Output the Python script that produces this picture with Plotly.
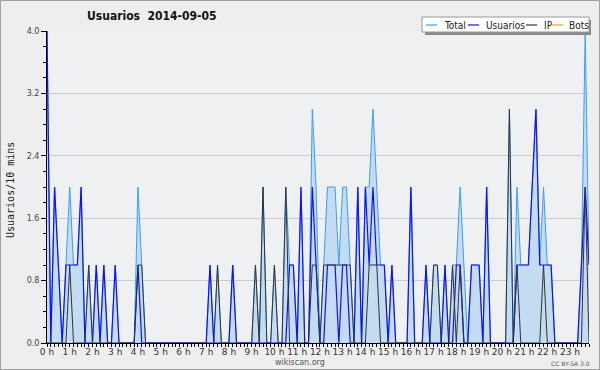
import plotly.graph_objects as go

# 10-minute slots, 0:00 .. 23:50 (x in hours)
slots = [i / 6 for i in range(144)]

usuarios = [
    4, 0, 2, 1, 0, 1, 1, 1, 1, 2, 0, 0,
    0, 1, 0, 1, 0, 0, 1, 0, 0, 0, 0, 0,
    1, 0, 0, 0, 0, 0, 0, 0, 0, 0, 0, 0,
    0, 0, 0, 0, 0, 0, 0, 1, 0, 0, 0, 0,
    0, 1, 0, 0, 0, 0, 0, 0, 0, 0, 0, 0,
    0, 0, 0, 0, 1, 1, 0, 2, 0, 0, 2, 1,
    0, 0, 1, 1, 1, 0, 1, 1, 0, 0, 2, 0,
    2, 1, 2, 1, 1, 1, 0, 1, 0, 0, 0, 0,
    2, 0, 0, 0, 1, 0, 0, 0, 0, 1, 0, 0,
    1, 1, 0, 0, 1, 1, 1, 0, 2, 0, 0, 0,
    0, 0, 0, 0, 1, 1, 1, 1, 2, 3, 1, 1,
    1, 1, 0, 0, 0, 0, 0, 0, 0, 1, 2, 1,
]
ip = [
    0, 0, 0, 0, 0, 0, 1, 0, 0, 0, 0, 1,
    0, 0, 0, 0, 0, 0, 0, 0, 0, 0, 0, 0,
    1, 1, 0, 0, 0, 0, 0, 0, 0, 0, 0, 0,
    0, 0, 0, 0, 0, 0, 0, 0, 0, 1, 0, 0,
    0, 0, 0, 0, 0, 0, 0, 1, 0, 2, 0, 0,
    1, 0, 0, 2, 0, 0, 0, 0, 0, 0, 1, 1,
    0, 1, 1, 1, 1, 1, 1, 1, 1, 0, 0, 0,
    0, 1, 1, 1, 0, 0, 0, 0, 0, 0, 0, 0,
    0, 0, 0, 0, 0, 0, 1, 1, 0, 0, 0, 1,
    0, 1, 0, 0, 0, 0, 0, 0, 0, 0, 0, 0,
    0, 0, 3, 0, 1, 0, 0, 0, 0, 0, 0, 1,
    0, 0, 0, 0, 0, 0, 0, 0, 0, 0, 2, 0,
]
total = [
    4, 0, 2, 1, 0, 1, 2, 1, 1, 2, 0, 1,
    0, 1, 0, 1, 0, 0, 1, 0, 0, 0, 0, 0,
    2, 1, 0, 0, 0, 0, 0, 0, 0, 0, 0, 0,
    0, 0, 0, 0, 0, 0, 0, 1, 0, 1, 0, 0,
    0, 1, 0, 0, 0, 0, 0, 1, 0, 2, 0, 0,
    1, 0, 0, 2, 1, 1, 0, 2, 0, 0, 3, 2,
    0, 1, 2, 2, 2, 1, 2, 2, 1, 0, 2, 0,
    2, 2, 3, 2, 1, 1, 0, 1, 0, 0, 0, 0,
    2, 0, 0, 0, 1, 0, 1, 1, 0, 1, 0, 1,
    1, 2, 1, 0, 1, 1, 1, 0, 2, 0, 0, 0,
    0, 0, 3, 0, 2, 1, 1, 1, 2, 3, 1, 2,
    1, 1, 0, 0, 0, 0, 0, 0, 0, 1, 4, 1,
]
bots = [0] * 144

hour_vals = list(range(24))
hour_text = [f"{h} h" for h in hour_vals]
y_ticks = [0.0, 0.8, 1.6, 2.4, 3.2, 4.0]

C_TOTAL = "#3d9df5"
C_FILL = "rgba(192,218,240,0.95)"
C_USR = "#1010ff"
C_IP = "#333333"
C_BOTS = "#ff9a10"

W, H = 600, 370
L, R, T, B = 47, 11, 31, 27
PW, PH = W - L - R, H - T - B


def px(x):
    return (x - L) / PW


def py(y):
    return (H - B - y) / PH


fig = go.Figure()
fig.add_trace(go.Scatter(x=slots, y=bots, mode="lines",
                         line=dict(color=C_BOTS, width=1), name="Bots"))
fig.add_trace(go.Scatter(x=slots, y=total, mode="lines", fill="tozeroy",
                         fillcolor=C_FILL, line=dict(color=C_TOTAL, width=1),
                         name="Total"))
fig.add_trace(go.Scatter(x=slots, y=usuarios, mode="lines",
                         line=dict(color=C_USR, width=1.2), name="Usuarios"))
fig.add_trace(go.Scatter(x=slots, y=ip, mode="lines",
                         line=dict(color=C_IP, width=1), name="IP"))

shapes = []
# outer border
shapes.append(dict(type="rect", xref="paper", yref="paper",
                   x0=px(0.5), x1=px(W - 0.5), y0=py(0.5), y1=py(H - 0.5),
                   line=dict(color="#a0a0a0", width=1), layer="below"))
# legend shadow + box
shapes.append(dict(type="rect", xref="paper", yref="paper",
                   x0=px(425), x1=px(591), y0=py(20), y1=py(35),
                   fillcolor="#8a8a8a", line=dict(width=0)))
shapes.append(dict(type="rect", xref="paper", yref="paper",
                   x0=px(422), x1=px(589), y0=py(17), y1=py(32),
                   fillcolor="white", line=dict(color="#999999", width=1)))

legend_items = [("Total", C_TOTAL, 426, 442), ("Usuarios", C_USR, 468, 484),
                ("IP", C_IP, 526, 542), ("Bots", C_BOTS, 552, 567)]
annotations = []
for name, col, lx, tx in legend_items:
    shapes.append(dict(type="line", xref="paper", yref="paper",
                       x0=px(lx), x1=px(lx + 11), y0=py(25), y1=py(25),
                       line=dict(color=col, width=1.2)))
    annotations.append(dict(text=name, xref="paper", yref="paper",
                            x=px(tx), y=py(25), xanchor="left", yanchor="middle",
                            showarrow=False,
                            font=dict(family="DejaVu Sans Condensed, DejaVu Sans", size=10, color="#222")))

annotations.append(dict(text="<b>Usuarios\u00a0 2014-09-05</b>", xref="paper", yref="paper",
                        x=px(85), y=py(16), xanchor="left", yanchor="middle",
                        showarrow=False,
                        font=dict(family="DejaVu Sans Condensed, DejaVu Sans", size=12, color="#111")))
annotations.append(dict(text="Usuarios/10 mins", xref="paper", yref="paper",
                        x=px(10), y=py(190), xanchor="center", yanchor="middle",
                        textangle=-90, showarrow=False,
                        font=dict(family="DejaVu Sans Mono", size=10, color="#222")))
annotations.append(dict(text="wikiscan.org", xref="paper", yref="paper",
                        x=px(300), y=py(362), xanchor="center", yanchor="middle",
                        showarrow=False,
                        font=dict(family="DejaVu Sans", size=8, color="#555")))
annotations.append(dict(text="CC BY-SA 3.0", xref="paper", yref="paper",
                        x=px(592), y=py(363), xanchor="right", yanchor="middle",
                        showarrow=False,
                        font=dict(family="DejaVu Sans", size=6, color="#555")))

fig.update_layout(
    width=W, height=H,
    margin=dict(l=L, r=R, t=T, b=B, pad=0),
    paper_bgcolor="#eeeeee",
    plot_bgcolor="#eef0f2",
    showlegend=False,
    shapes=shapes,
    annotations=annotations,
    xaxis=dict(range=[0, 143 / 6], tickvals=hour_vals, ticktext=hour_text,
               ticks="outside", ticklen=3, tickcolor="black", showgrid=False,
               zeroline=False, showline=True, linecolor="black", linewidth=1,
               ticklabelstandoff=-3,
               tickfont=dict(family="DejaVu Sans", size=9, color="#333"),
               minor=dict(dtick=1 / 6, ticks="outside", ticklen=3, tickcolor="black",
                          showgrid=False)),
    yaxis=dict(range=[0, 4], tickvals=y_ticks, tickformat=".1f",
               ticks="outside", ticklen=5, tickcolor="black",
               showgrid=True, gridcolor="#cccccc", gridwidth=1,
               zeroline=False, showline=True, linecolor="black", linewidth=1,
               tickfont=dict(family="DejaVu Sans", size=8, color="#444"),
               minor=dict(dtick=0.2, ticks="outside", ticklen=3, tickcolor="black",
                          showgrid=False)),
)

fig.write_html("out.html")
